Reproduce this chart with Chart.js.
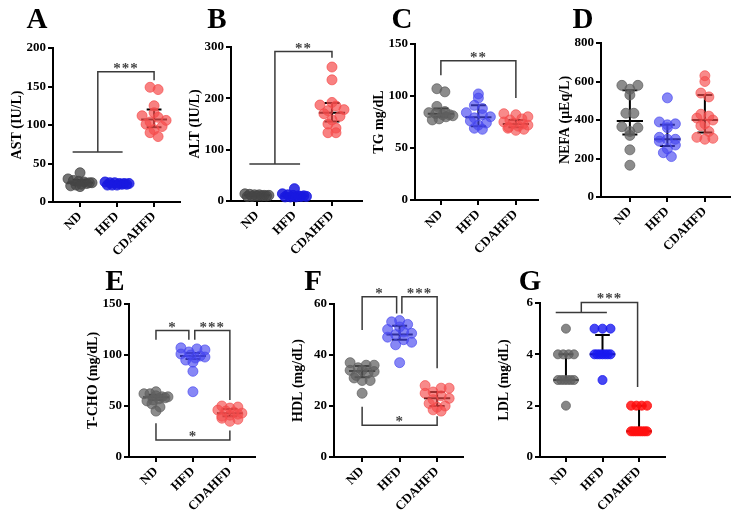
<!DOCTYPE html>
<html>
<head>
<meta charset="utf-8">
<script src="https://cdn.jsdelivr.net/npm/chart.js@4"></script>
<style>
  body { margin: 0; background: #fff; width: 738px; height: 515px; overflow: hidden; position: relative; }
  .panel { position: absolute; }
  .tag { position: absolute; width: 40px; text-align: center; font: bold 29px 'Liberation Serif', serif; line-height: 28px; color: #000; }
</style>
</head>
<body>
<script>
// groups on every x axis
const groups = ['ND', 'HFD', 'CDAHFD'];

// A - AST
const astND = [38, 30, 28, 27, 26, 25, 25, 24, 23, 22, 21, 20];
const astHFD = [26, 25, 25, 24, 24, 24, 23, 23, 22, 22, 22];
const astCDAHFD = [149, 146, 125, 116, 112, 110, 106, 104, 101, 98, 94, 90, 85];
const astMid = [25, 24, 107], astLow = [22, 23, 97], astHigh = [29, 25, 120];

// B - ALT
const altND = [14, 13, 12, 12, 11, 11, 10, 10, 10, 9, 9];
const altHFD = [24, 14, 12, 11, 10, 10, 9, 9, 8, 8, 8];
const altCDAHFD = [261, 236, 192, 187, 185, 178, 176, 170, 165, 158, 150, 142, 133, 133];
const altMid = [11, 10, 172], altLow = [10, 9, 155], altHigh = [13, 12, 191];

// C - TG
const tgND = [107, 104, 90, 85, 84, 83, 82, 82, 81, 80, 78, 77];
const tgHFD = [102, 98, 91, 88, 84, 82, 80, 79, 76, 74, 72, 69, 68];
const tgCDAHFD = [83, 82, 80, 78, 77, 75, 74, 73, 72, 71, 70, 69, 68, 67];
const tgMid = [83, 79.5, 73], tgLow = [80, 71, 70], tgHigh = [88, 91, 77];

// D - NEFA
const nefaND = [580, 580, 560, 530, 435, 435, 365, 360, 340, 320, 245, 165];
const nefaHFD = [515, 390, 380, 375, 360, 310, 300, 300, 290, 270, 250, 230, 210];
const nefaCDAHFD = [630, 600, 540, 520, 430, 420, 410, 400, 380, 370, 340, 310, 305, 300];
const nefaMid = [395, 300, 400], nefaLow = [325, 265, 335], nefaHigh = [555, 375, 530];

// E - T-CHO
const tchoND = [64, 62, 62, 60, 59, 59, 58, 57, 56, 55, 52, 49, 45];
const tchoHFD = [107, 106, 105, 103, 101, 100, 99, 98, 97, 95, 93, 84, 64];
const tchoCDAHFD = [50, 49, 48, 46, 45, 44, 43, 42, 41, 40, 38, 37, 35];
const tchoMid = [58.5, 99, 43], tchoLow = [56, 96, 40], tchoHigh = [61, 102, 47];

// F - HDL
const hdlND = [37, 36, 36, 35, 34, 34, 33.5, 33, 32, 31, 30, 30, 25];
const hdlHFD = [53.5, 53, 52, 51, 50, 49, 48.5, 48, 47, 46, 45, 44, 37];
const hdlCDAHFD = [28, 27, 27, 25.5, 25, 24, 23, 22.5, 21, 20, 19.5, 18.5, 18];
const hdlMid = [33.7, 48, 23], hdlLow = [31.3, 46, 20], hdlHigh = [35.7, 51.5, 25.5];

// G - LDL
const ldlND = [5, 4, 4, 4, 4, 3, 3, 3, 3, 3, 3, 2];
const ldlHFD = [5, 5, 5, 4, 4, 4, 4, 4, 4, 4, 3];
const ldlCDAHFD = [2, 2, 2, 2, 1, 1, 1, 1, 1, 1, 1, 1];
const ldlMid = [3, 4, 1], ldlLow = [3, 4, 1], ldlHigh = [4, 4.75, 2];

// significance brackets (data units)
const astBrackets = [
  { path: [[-0.2, 65], [1.15, 65]] },
  { path: [[0.48, 65], [0.48, 169], [2, 169], [2, 158]], text: '***', at: [1.24, 169] }
];
const altBrackets = [
  { path: [[-0.2, 72], [1.15, 72]] },
  { path: [[0.48, 72], [0.48, 291], [2, 291], [2, 279]], text: '**', at: [1.24, 291] }
];
const tgBrackets = [
  { path: [[0, 120], [0, 134], [2, 134], [2, 98]], text: '**', at: [1, 134] }
];
const tchoBrackets = [
  { path: [[0, 115], [0, 124], [0.89, 124], [0.89, 115]], text: '*', at: [0.45, 124] },
  { path: [[1.05, 115], [1.05, 124], [2, 124], [2, 56]], text: '***', at: [1.52, 124] },
  { path: [[0, 33], [0, 16.7], [2, 16.7], [2, 26]], text: '*', at: [1, 16.7] }
];
const hdlBrackets = [
  { path: [[0, 49.8], [0, 62.8], [0.92, 62.8], [0.92, 56.3]], text: '*', at: [0.46, 62.8] },
  { path: [[1.06, 56.3], [1.06, 62.8], [2, 62.8], [2, 34.8]], text: '***', at: [1.53, 62.8] },
  { path: [[0, 19.7], [0, 12.5], [2, 12.5], [2, 16]], text: '*', at: [1, 12.5] }
];
const ldlBrackets = [
  { path: [[-0.28, 5.63], [1.12, 5.63]] },
  { path: [[0.42, 5.63], [0.42, 6.02], [1.96, 6.02], [1.96, 2.73]], text: '***', at: [1.19, 6.02] }
];

const tones = {
  dark: ['rgba(70,70,70,0.75)', 'rgba(25,25,225,0.85)', 'rgba(245,75,75,0.7)'],
  light: ['rgba(95,95,95,0.72)', 'rgba(70,70,240,0.65)', 'rgba(245,75,75,0.65)'],
  vivid: ['rgba(95,95,95,0.75)', 'rgba(25,25,240,0.8)', 'rgba(255,15,15,0.85)']
};

// scatter spread: row height, point spacing and half width, all in px
const spreadStd = { bin: 8, space: 8, half: 12 };
const spreadLdl = { bin: 4, space: 8, half: 8 };

const panels = [
  { tag: 'A', title: 'AST (IU/L)', yMax: 200, step: 50, vals: [astND, astHFD, astCDAHFD], mid: astMid, low: astLow, high: astHigh,
    brackets: astBrackets, tone: 'dark', spread: spreadStd, r: 5,
    box: { axisX: 53, right: 180, top: 48, bottom: 202, xMin: -0.73, xMax: 2.7, tagX: 37, tagY: 4 } },
  { tag: 'B', title: 'ALT (IU/L)', yMax: 300, step: 100, vals: [altND, altHFD, altCDAHFD], mid: altMid, low: altLow, high: altHigh,
    brackets: altBrackets, tone: 'dark', spread: spreadStd, r: 5,
    box: { axisX: 231, right: 362, top: 47, bottom: 201, xMin: -0.69, xMax: 2.8, tagX: 217, tagY: 4 } },
  { tag: 'C', title: 'TG mg/dL', yMax: 150, step: 50, vals: [tgND, tgHFD, tgCDAHFD], mid: tgMid, low: tgLow, high: tgHigh,
    brackets: tgBrackets, tone: 'light', spread: spreadStd, r: 5,
    box: { axisX: 415, right: 538, top: 44, bottom: 200, xMin: -0.69, xMax: 2.59, tagX: 402, tagY: 4 } },
  { tag: 'D', title: 'NEFA (μEq/L)', yMax: 800, step: 200, vals: [nefaND, nefaHFD, nefaCDAHFD], mid: nefaMid, low: nefaLow, high: nefaHigh,
    brackets: [], tone: 'light', spread: spreadStd, r: 5,
    box: { axisX: 601, right: 730, top: 43, bottom: 197, xMin: -0.77, xMax: 2.67, tagX: 583, tagY: 4 } },
  { tag: 'E', title: 'T-CHO (mg/dL)', yMax: 150, step: 50, vals: [tchoND, tchoHFD, tchoCDAHFD], mid: tchoMid, low: tchoLow, high: tchoHigh,
    brackets: tchoBrackets, tone: 'light', spread: spreadStd, r: 5,
    box: { axisX: 129, right: 255, top: 304, bottom: 457, xMin: -0.73, xMax: 2.68, tagX: 115, tagY: 266 } },
  { tag: 'F', title: 'HDL (mg/dL)', yMax: 60, step: 20, vals: [hdlND, hdlHFD, hdlCDAHFD], mid: hdlMid, low: hdlLow, high: hdlHigh,
    brackets: hdlBrackets, tone: 'light', spread: spreadStd, r: 5,
    box: { axisX: 334, right: 463, top: 304, bottom: 457, xMin: -0.75, xMax: 2.69, tagX: 313, tagY: 266 } },
  { tag: 'G', title: 'LDL (mg/dL)', yMax: 6, step: 2, vals: [ldlND, ldlHFD, ldlCDAHFD], mid: ldlMid, low: ldlLow, high: ldlHigh,
    brackets: ldlBrackets, tone: 'vivid', spread: spreadLdl, r: 4.5,
    box: { axisX: 540, right: 665, top: 303, bottom: 457, xMin: -0.71, xMax: 2.71, tagX: 530, tagY: 266 } }
];

const YW = 48, PT = 20, PR = 8, XH = 60;
const FONT = "'Liberation Serif', 'Times New Roman', serif";

// GraphPad-like column scatter: points in the same row are laid side by side,
// high and low values interleaved so a row stays level
function swarm(values, gi, ppuX, ppuY, st) {
  const rows = new Map();
  values.forEach(v => {
    const k = Math.floor(v * ppuY / st.bin);
    if (!rows.has(k)) rows.set(k, []);
    rows.get(k).push(v);
  });
  const pts = [];
  rows.forEach(row => {
    const n = row.length;
    const s = n > 1 ? Math.min(st.space, 2 * st.half / (n - 1)) : 0;
    const order = [];
    for (let i = 0, j = n - 1; i <= j; i++, j--) {
      order.push(row[i]);
      if (i !== j) order.push(row[j]);
    }
    order.forEach((v, k) => pts.push({ x: gi + (k - (n - 1) / 2) * s / ppuX, y: v }));
  });
  return pts;
}

function overlay(p) {
  return {
    id: 'overlay' + p.tag,
    beforeDatasetsDraw(chart) {
      const { ctx, scales: { x, y } } = chart;
      ctx.save();
      ctx.strokeStyle = '#000';
      ctx.lineWidth = 2;
      p.mid.forEach((m, i) => {
        const cx = x.getPixelForValue(i);
        const w = x.getPixelForValue(i + 0.35) - cx;
        const c = x.getPixelForValue(i + 0.2) - cx;
        const yl = y.getPixelForValue(p.low[i]);
        const yh = y.getPixelForValue(p.high[i]);
        const ym = y.getPixelForValue(m);
        ctx.beginPath();
        ctx.moveTo(cx, yl); ctx.lineTo(cx, yh);
        ctx.moveTo(cx - c, yl); ctx.lineTo(cx + c, yl);
        ctx.moveTo(cx - c, yh); ctx.lineTo(cx + c, yh);
        ctx.moveTo(cx - w, ym); ctx.lineTo(cx + w, ym);
        ctx.stroke();
      });
      ctx.restore();
    },
    afterDatasetsDraw(chart) {
      const { ctx, scales: { x, y } } = chart;
      ctx.save();
      ctx.strokeStyle = '#3a3a3a';
      ctx.lineWidth = 1.5;
      ctx.fillStyle = '#444';
      ctx.font = 'bold 15px ' + FONT;
      ctx.textAlign = 'center';
      ctx.textBaseline = 'alphabetic';
      ctx.letterSpacing = '1px';
      p.brackets.forEach(b => {
        ctx.beginPath();
        b.path.forEach(([vx, vy], k) => {
          const px = x.getPixelForValue(vx), py = y.getPixelForValue(vy);
          if (k) ctx.lineTo(px, py); else ctx.moveTo(px, py);
        });
        ctx.stroke();
        if (b.text) {
          ctx.fillText(b.text, x.getPixelForValue(b.at[0]), y.getPixelForValue(b.at[1]) + 1);
        }
      });
      ctx.restore();
    }
  };
}

panels.forEach(p => {
  const b = p.box;
  const w = YW + (b.right - b.axisX) + PR;
  const h = PT + (b.bottom - b.top) + XH;
  const div = document.createElement('div');
  div.className = 'panel';
  div.style.left = (b.axisX - YW) + 'px';
  div.style.top = (b.top - PT) + 'px';
  div.style.width = w + 'px';
  div.style.height = h + 'px';
  const canvas = document.createElement('canvas');
  canvas.width = w;
  canvas.height = h;
  div.appendChild(canvas);
  document.body.appendChild(div);

  const tag = document.createElement('div');
  tag.className = 'tag';
  tag.textContent = p.tag;
  tag.style.left = (b.tagX - 20) + 'px';
  tag.style.top = b.tagY + 'px';
  document.body.appendChild(tag);

  const ppuX = (b.right - b.axisX) / (b.xMax - b.xMin);
  const ppuY = (b.bottom - b.top) / p.yMax;
  const colors = tones[p.tone];

  new Chart(canvas.getContext('2d'), {
    type: 'scatter',
    data: {
      datasets: p.vals.map((v, gi) => ({
        label: groups[gi],
        data: swarm(v, gi, ppuX, ppuY, p.spread),
        backgroundColor: colors[gi],
        borderColor: colors[gi],
        borderWidth: 1,
        pointRadius: p.r,
        clip: false
      }))
    },
    options: {
      responsive: false,
      animation: false,
      devicePixelRatio: 1,
      layout: { padding: { top: PT, right: PR, left: 0, bottom: 0 } },
      plugins: { legend: { display: false }, tooltip: { enabled: false } },
      scales: {
        x: {
          type: 'linear',
          min: b.xMin,
          max: b.xMax,
          afterBuildTicks: s => { s.ticks = groups.map((g, i) => ({ value: i })); },
          afterFit: s => { s.height = XH; },
          ticks: {
            callback: v => groups[v],
            minRotation: 45,
            maxRotation: 45,
            padding: 2,
            color: '#000',
            font: { family: FONT, weight: 'bold', size: 13 }
          },
          grid: { drawOnChartArea: false, color: '#000', lineWidth: 2, tickLength: 5 },
          border: { color: '#000', width: 2 }
        },
        y: {
          min: 0,
          max: p.yMax,
          afterFit: s => { s.width = YW; },
          ticks: {
            stepSize: p.step,
            padding: 2,
            color: '#000',
            font: { family: FONT, weight: 'bold', size: 13 }
          },
          grid: { drawOnChartArea: false, color: '#000', lineWidth: 2, tickLength: 5 },
          border: { color: '#000', width: 2 },
          title: {
            display: true,
            text: p.title,
            color: '#000',
            font: { family: FONT, weight: 'bold', size: 14 }
          }
        }
      }
    },
    plugins: [overlay(p)]
  });
});
</script>
</body>
</html>
